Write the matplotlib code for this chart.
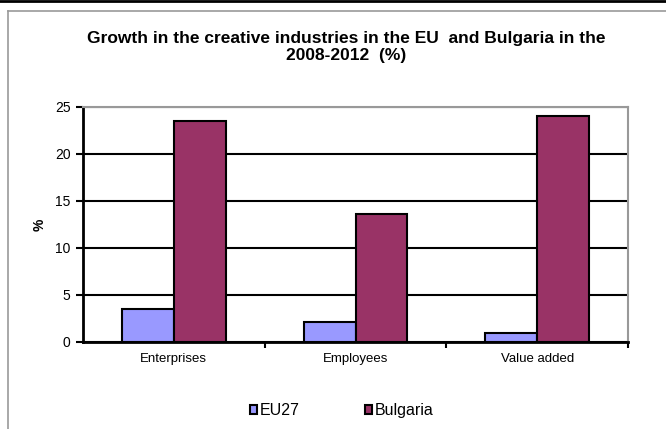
import numpy as np
import matplotlib.pyplot as plt
from matplotlib.lines import Line2D

plt.rcParams['font.family'] = ['Liberation Sans', 'DejaVu Sans']

categories = ['Enterprises', 'Employees', 'Value added']
eu27 = [3.5, 2.1, 1.0]
bulgaria = [23.5, 13.6, 24.0]
yticks = [0, 5, 10, 15, 20, 25]

fig = plt.figure(figsize=(6.66, 4.29), dpi=100)
ax = fig.add_axes([0.1246, 0.2028, 0.8184, 0.5478])

# page rule on top and the chart frame (left + top edges)
fig.add_artist(Line2D([0, 1], [0.997, 0.997], transform=fig.transFigure, color='black', lw=2))
fig.add_artist(Line2D([0.012, 1], [0.974, 0.974], transform=fig.transFigure, color='#999999', lw=1.2))
fig.add_artist(Line2D([0.012, 0.012], [0, 0.974], transform=fig.transFigure, color='#999999', lw=1.2))

x = np.arange(len(categories))
w = 0.286
ax.bar(x - w / 2, eu27, w, color='#9999FF', edgecolor='black', lw=1.5, label='EU27', zorder=3)
ax.bar(x + w / 2, bulgaria, w, color='#993366', edgecolor='black', lw=1.5, label='Bulgaria', zorder=3)

ax.set_xlim(-0.5, 2.5)
ax.set_ylim(0, 25)
ax.set_yticks(yticks)
ax.set_xticks(x)
ax.set_xticklabels(categories, fontsize=9.5)
ax.set_xticks([0.5, 1.5, 2.5], minor=True)
ax.tick_params(axis='x', which='major', length=0, pad=8)
ax.tick_params(axis='x', which='minor', length=4, width=1.5, direction='out')
ax.tick_params(axis='y', length=5, width=1.5, direction='out', labelsize=10, pad=4)

ax.yaxis.grid(True, color='black', lw=1.5, zorder=1)
ax.set_axisbelow(True)
for side in ['left', 'bottom']:
    ax.spines[side].set_linewidth(2)
for side in ['top', 'right']:
    ax.spines[side].set_color('#999999')
    ax.spines[side].set_linewidth(1.5)

ax.set_ylabel('%', fontsize=10, fontweight='bold', labelpad=6)

fig.text(0.52, 0.891, 'Growth in the creative industries in the EU  and Bulgaria in the\n2008-2012  (%)',
         ha='center', va='center', fontsize=12.5, fontweight='bold', linespacing=1.15)

fig.legend(loc='center', bbox_to_anchor=(0.513, 0.043), ncol=2, frameon=False, fontsize=11.5,
           handlelength=0.45, handleheight=0.45, handletextpad=0.15, columnspacing=4.1)

fig.savefig('out.png', dpi=100)
